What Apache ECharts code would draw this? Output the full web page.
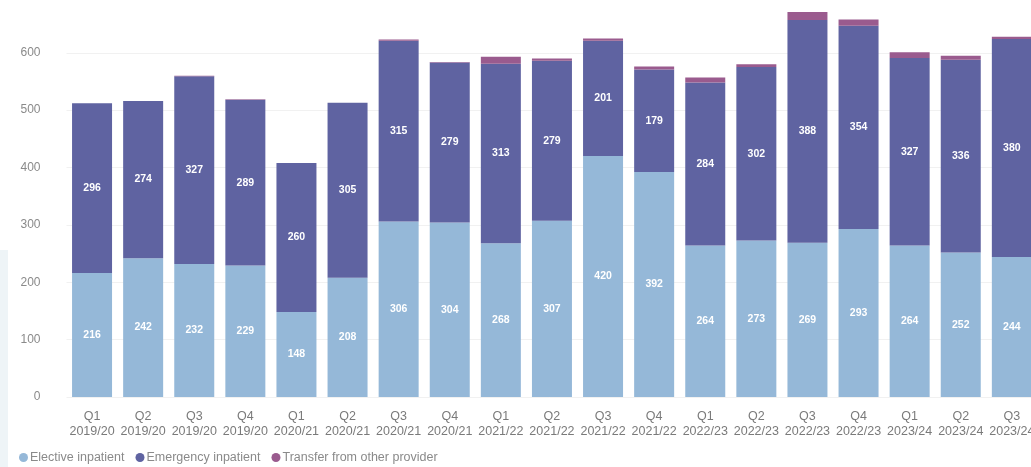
<!DOCTYPE html>
<html>
<head>
<meta charset="utf-8">
<script src="https://cdn.jsdelivr.net/npm/echarts@6/dist/echarts.min.js"></script>
<style>
  html, body { margin: 0; padding: 0; background: #ffffff; }
  #chart { width: 1031px; height: 467px; }
</style>
</head>
<body>
<div id="chart"></div>
<script>
// Quarterly admissions by route
const quarters = [
  'Q1\n2019/20', 'Q2\n2019/20', 'Q3\n2019/20', 'Q4\n2019/20',
  'Q1\n2020/21', 'Q2\n2020/21', 'Q3\n2020/21', 'Q4\n2020/21',
  'Q1\n2021/22', 'Q2\n2021/22', 'Q3\n2021/22', 'Q4\n2021/22',
  'Q1\n2022/23', 'Q2\n2022/23', 'Q3\n2022/23', 'Q4\n2022/23',
  'Q1\n2023/24', 'Q2\n2023/24', 'Q3\n2023/24'
];
const elective  = [216, 242, 232, 229, 148, 208, 306, 304, 268, 307, 420, 392, 264, 273, 269, 293, 264, 252, 244];
const emergency = [296, 274, 327, 289, 260, 305, 315, 279, 313, 279, 201, 179, 284, 302, 388, 354, 327, 336, 380];
const transfer  = [0, 0, 1, 1, 0, 0, 2, 1, 12, 4, 4, 5, 9, 5, 14, 11, 10, 7, 4];
const yTicks = [0, 100, 200, 300, 400, 500, 600];

const seriesNames = ['Elective inpatient', 'Emergency inpatient', 'Transfer from other provider'];
const colors = ['#95b8d8', '#5f63a1', '#9a5b8e'];

const font = 'Liberation Sans, Arial, sans-serif';
const chart = echarts.init(document.getElementById('chart'), null, { renderer: 'canvas' });

const valueLabel = {
  show: true,
  position: 'inside',
  color: '#ffffff',
  fontSize: 10.5,
  fontWeight: 'bold',
  fontFamily: font
};

// value range of the plot: 0 sits at y=397 and 100 units span about 57px
const yMin = yTicks[0];
const yMax = 692;
const yStep = yTicks[1] - yTicks[0];

chart.setOption({
  backgroundColor: '#ffffff',
  animation: false,
  color: colors,
  graphic: [{
    type: 'rect',
    left: 0, top: 250,
    shape: { width: 8, height: 217 },
    style: { fill: '#eef4f7' },
    z: -10
  }],
  legend: {
    left: 14,
    top: 446,
    itemWidth: 9,
    itemHeight: 9,
    itemGap: 11,
    icon: 'circle',
    textStyle: { color: '#8a8a8a', fontSize: 12.5, fontFamily: font, padding: [0, 0, 0, -3] },
    data: seriesNames
  },
  grid: {
    left: 66.5, right: -6.4, top: 0, bottom: 70,
    outerBoundsMode: 'none'
  },
  xAxis: {
    type: 'category',
    data: quarters,
    axisLine: { show: false },
    axisTick: { show: false },
    axisLabel: {
      interval: 0,
      color: '#7a7a7a',
      fontSize: 12.5,
      lineHeight: 15,
      margin: 12,
      fontFamily: font
    }
  },
  yAxis: {
    type: 'value',
    min: yMin,
    max: yMax,
    interval: yStep,
    axisLine: { show: false },
    axisTick: { show: false },
    axisLabel: {
      showMaxLabel: false,
      color: '#8a8a8a',
      fontSize: 12,
      margin: 26,
      fontFamily: font
    },
    splitLine: { showMaxLine: false, lineStyle: { color: '#f1f1f1', width: 1 } }
  },
  series: [
    {
      name: seriesNames[0], type: 'bar', stack: 'total',
      barWidth: 40,
      data: elective,
      label: valueLabel
    },
    {
      name: seriesNames[1], type: 'bar', stack: 'total',
      barWidth: 40,
      data: emergency,
      label: valueLabel
    },
    {
      name: seriesNames[2], type: 'bar', stack: 'total',
      barWidth: 40,
      data: transfer,
      label: { show: false }
    }
  ]
});
</script>
</body>
</html>
